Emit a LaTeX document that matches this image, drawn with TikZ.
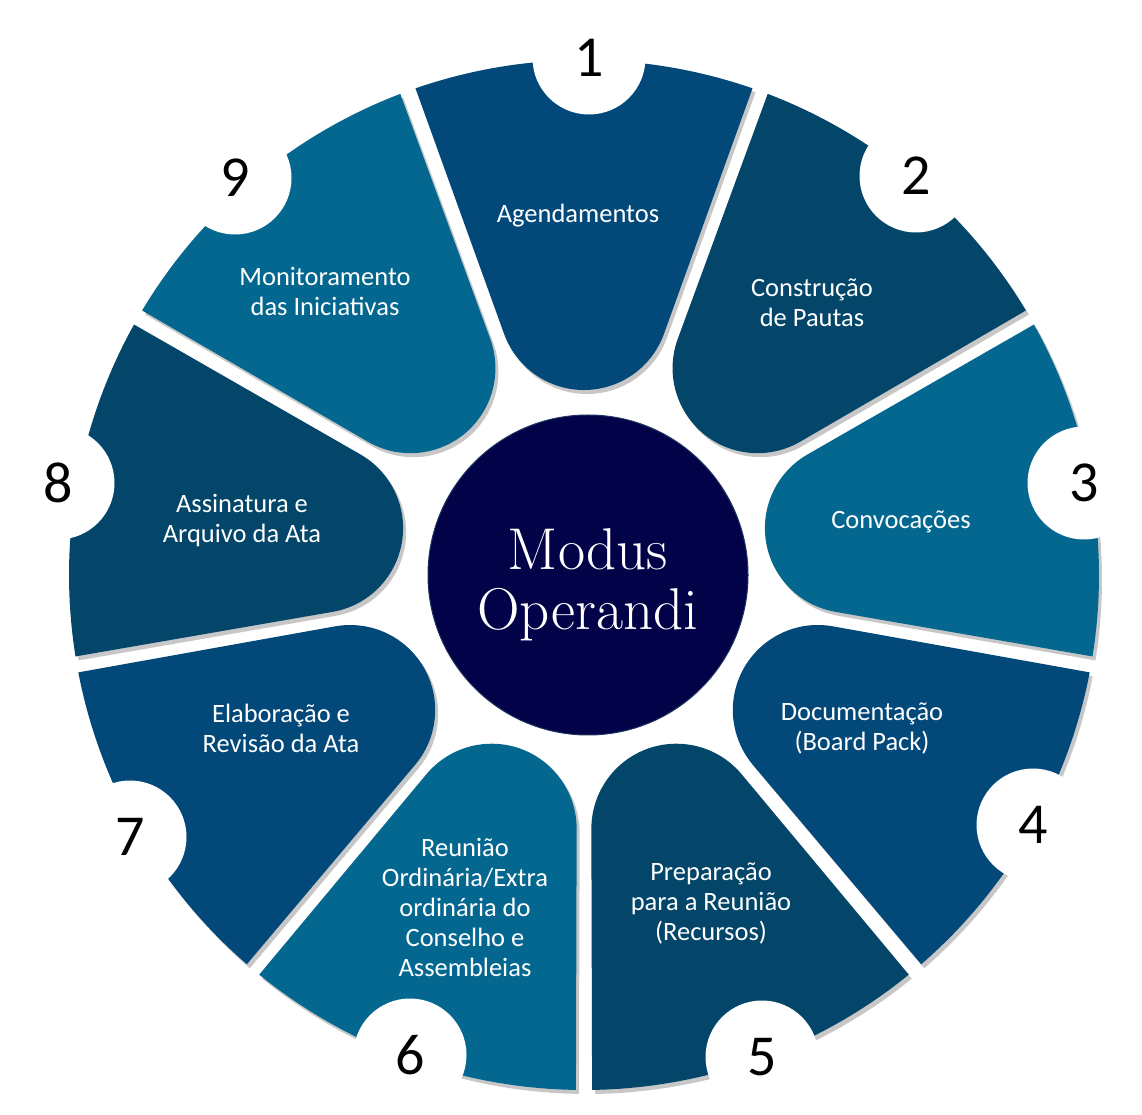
\documentclass[tikz,border=0pt]{standalone}
\usepackage{fontspec}
\setsansfont{Carlito}
\usetikzlibrary{calc,shadows}
\definecolor{segmid}{RGB}{2,73,122}
\definecolor{segdark}{RGB}{3,70,106}
\definecolor{seglight}{RGB}{3,103,143}
\definecolor{hubcol}{RGB}{2,2,72}
\definecolor{hubrim}{RGB}{30,52,96}
\tikzset{
  seglabel/.style={text=white, font=\sffamily\fontsize{26.5}{30}\selectfont, align=center, inner sep=0pt},
  numdisk/.style={circle, fill=white, minimum size=113pt, inner sep=0pt, font=\sffamily\fontsize{58}{60}\selectfont, text=black},
  segshadow/.style={drop shadow={shadow xshift=3pt, shadow yshift=-4pt, opacity=0.22, fill=black}},
  hubstyle/.style={circle, fill=hubcol, draw=hubrim, line width=1pt, minimum size=320pt, inner sep=0pt},
  hubtext/.style={text=white, align=center, inner sep=0pt, font=\fontsize{59}{60}\selectfont}
}
\newcommand\wheelseg[2]{% #1 centre angle, #2 colour
  \path[fill=#2, segshadow]
    ($(C)+(#1+20-0.9:515pt)$) -- ($(C)+(#1:270pt)+(#1+110:85pt)$)
    arc[start angle=#1+110, end angle=#1+250, radius=85pt]
    -- ($(C)+(#1-20+0.9:515pt)$)
    arc[start angle=#1-20+0.9, end angle=#1+20-0.9, radius=515pt] -- cycle;
}
\begin{document}
\begin{tikzpicture}[x=1pt,y=1pt]
\fill[white] (0,0) rectangle (1142,1114);
\useasboundingbox (0,0) rectangle (1142,1114);
\coordinate (C) at (584,539);
% segments
\wheelseg{90}{segmid}
\wheelseg{50}{segdark}
\wheelseg{10}{seglight}
\wheelseg{-30}{segmid}
\wheelseg{-70}{segdark}
\wheelseg{-110}{seglight}
\wheelseg{-150}{segmid}
\wheelseg{170}{segdark}
\wheelseg{130}{seglight}
% hub
\node[hubstyle] (hub) at (588,539) {};
\node[hubtext] (hubt) at (588,529) {Modus\\Operandi};
% labels
\node[seglabel] (l1) at (578,898) {Agendamentos};
\node[seglabel] (l2) at (812,811) {Construção\\de Pautas};
\node[seglabel] (l3) at (901,592) {Convocações};
\node[seglabel] (l4) at (862,386) {Documentação\\(Board Pack)};
\node[seglabel] (l5) at (711,211) {Preparação\\para a Reunião\\(Recursos)};
\node[seglabel] (l6) at (465,207) {Reunião\\Ordinária/Extra\\ordinária do\\Conselho e\\Assembleias};
\node[seglabel] (l7) at (281,386) {Elaboração e\\Revisão da Ata};
\node[seglabel] (l8) at (242,593) {Assinatura e\\Arquivo da Ata};
\node[seglabel] (l9) at (325,823) {Monitoramento\\das Iniciativas};
% number disks
\node[numdisk] (n1) at (589,1056) {1};
\node[numdisk] (n2) at (916,938) {2};
\node[numdisk] (n3) at (1084,631) {3};
\node[numdisk] (n4) at (1033,289) {4};
\node[numdisk] (n5) at (762,57) {5};
\node[numdisk] (n6) at (410,59) {6};
\node[numdisk] (n7) at (130,277) {7};
\node[numdisk] (n8) at (58,631) {8};
\node[numdisk] (n9) at (235,936) {9};
\end{tikzpicture}
\end{document}
